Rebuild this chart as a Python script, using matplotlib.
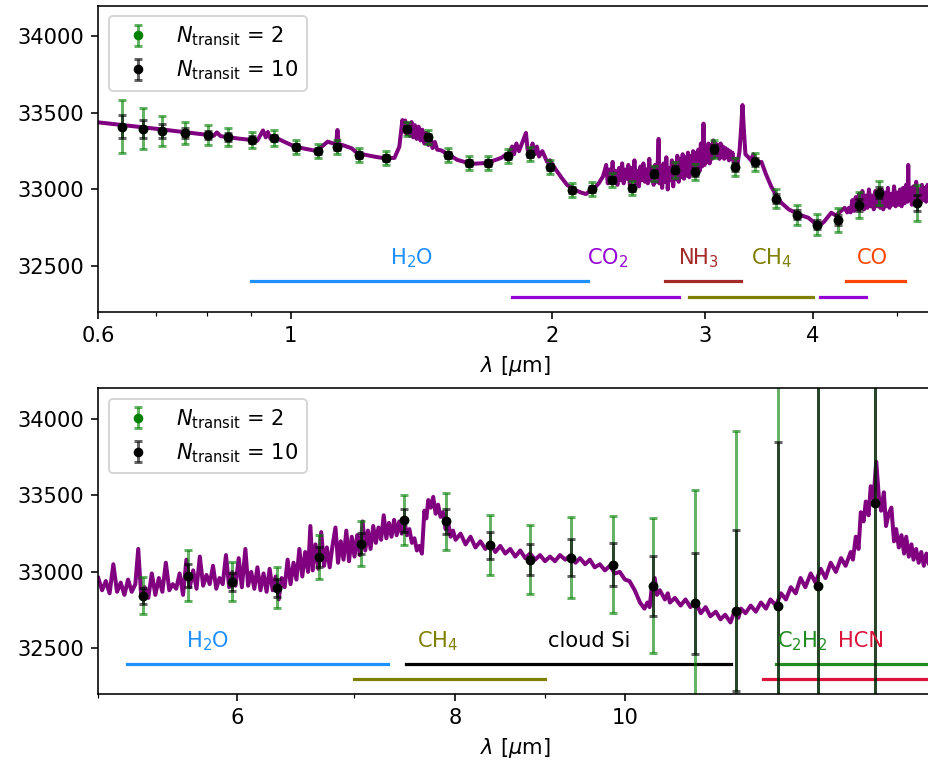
import matplotlib
matplotlib.use("Agg")
import matplotlib.pyplot as plt
import numpy as np
from matplotlib.ticker import NullFormatter

plt.rcParams["font.size"] = 10.5
plt.rcParams["mathtext.fontset"] = "dejavusans"

# binned data, short wavelength panel (micron, ppm)
wl_short = [0.639, 0.676, 0.711, 0.755, 0.803, 0.847, 0.902, 0.956, 1.013, 1.074,
            1.130, 1.200, 1.286, 1.360, 1.441, 1.519, 1.606, 1.688, 1.781, 1.888,
            1.990, 2.110, 2.224, 2.345, 2.473, 2.621, 2.770, 2.921, 3.079, 3.256,
            3.433, 3.628, 3.835, 4.044, 4.276, 4.520, 4.766, 5.270]
depth_short = [33410, 33395, 33382, 33369, 33356, 33343, 33323, 33336, 33277, 33251,
               33277, 33225, 33206, 33395, 33343, 33225, 33173, 33173, 33219, 33232,
               33147, 32997, 33004, 33063, 33010, 33102, 33128, 33115, 33264, 33147,
               33180, 32939, 32835, 32770, 32802, 32900, 32978, 32913]
err2_short = [173, 134, 100, 70, 63, 58, 52, 50, 48, 46,
              45, 44, 44, 44, 44, 44, 44, 44, 44, 44,
              44, 44, 44, 46, 48, 50, 52, 54, 56, 58,
              60, 62, 65, 68, 77, 85, 80, 116]
err10_short = [77, 60, 45, 31, 28, 26, 23, 22, 21, 21,
               20, 20, 20, 20, 20, 20, 20, 20, 20, 20,
               20, 20, 20, 21, 21, 22, 23, 24, 25, 26,
               27, 28, 29, 30, 34, 38, 36, 52]

# binned data, long wavelength panel
wl_long = [5.303, 5.627, 5.962, 6.327, 6.684, 7.062, 7.480, 7.906, 8.372, 8.826,
           9.311, 9.844, 10.38, 10.97, 11.58, 12.23, 12.90, 13.89]
depth_long = [32844, 32975, 32935, 32896, 33098, 33185, 33337, 33330, 33174, 33081,
              33094, 33048, 32909, 32794, 32746, 32779, 32909, 33452]
err2_long = [120, 166, 128, 133, 143, 149, 163, 186, 196, 227,
             264, 318, 441, 743, 1173, 2390, 4250, 6700]
err10_long = [54, 74, 57, 59, 64, 67, 73, 83, 88, 102,
              118, 142, 197, 332, 525, 1069, 1900, 3000]

# model spectrum, short wavelengths: (micron, ppm)
model_short = np.array([
    (0.600, 33438), (0.700, 33396), (0.800, 33357), (0.815, 33350), (0.822, 33372),
    (0.830, 33348), (0.874, 33331), (0.902, 33323), (0.915, 33318), (0.929, 33385),
    (0.936, 33340), (0.941, 33375), (0.948, 33330), (0.959, 33340), (1.011, 33279),
    (1.071, 33251), (1.103, 33312), (1.120, 33300), (1.128, 33300), (1.132, 33388),
    (1.136, 33295), (1.147, 33290), (1.175, 33269), (1.194, 33236), (1.249, 33214),
    (1.282, 33204), (1.317, 33206), (1.334, 33279), (1.345, 33453), (1.350, 33380),
    (1.355, 33450), (1.360, 33360), (1.366, 33430), (1.372, 33350), (1.378, 33440),
    (1.384, 33340), (1.390, 33420), (1.397, 33330), (1.404, 33410), (1.411, 33320),
    (1.418, 33390), (1.426, 33300), (1.433, 33370), (1.441, 33290), (1.449, 33340),
    (1.457, 33270), (1.466, 33310), (1.475, 33260), (1.491, 33255), (1.523, 33225),
    (1.556, 33193), (1.615, 33167), (1.684, 33173), (1.748, 33206), (1.785, 33240),
    (1.800, 33280), (1.809, 33230), (1.820, 33300), (1.833, 33250), (1.850, 33310),
    (1.867, 33369), (1.875, 33260), (1.892, 33240), (1.900, 33300), (1.912, 33230),
    (1.922, 33280), (1.933, 33215), (1.950, 33250), (1.974, 33182), (1.990, 33190),
    (2.022, 33128), (2.050, 33080), (2.082, 33030), (2.120, 33000), (2.160, 32980),
    (2.190, 32970), (2.218, 32997), (2.240, 33010), (2.265, 33040), (2.290, 33084),
    (2.300, 33120), (2.310, 33160), (2.320, 33040), (2.330, 33130), (2.340, 33060),
    (2.350, 33180), (2.360, 33050), (2.370, 33120), (2.380, 33030), (2.390, 33140),
    (2.400, 33060), (2.410, 33170), (2.420, 33040), (2.430, 33130), (2.440, 33070),
    (2.450, 33160), (2.460, 33030), (2.470, 33140), (2.480, 33060), (2.490, 33190),
    (2.500, 33040), (2.510, 33120), (2.520, 33020), (2.530, 33150), (2.540, 33060),
    (2.550, 33170), (2.560, 33050), (2.570, 33130), (2.580, 33040), (2.590, 33200),
    (2.600, 33060), (2.610, 33140), (2.620, 33030), (2.630, 33160), (2.640, 33050),
    (2.650, 33200), (2.655, 33330), (2.660, 33040), (2.670, 33150), (2.680, 33010),
    (2.690, 33170), (2.700, 33050), (2.710, 33210), (2.720, 33000), (2.730, 33140),
    (2.740, 33060), (2.750, 33190), (2.760, 33020), (2.770, 33170), (2.780, 33070),
    (2.790, 33220), (2.800, 33050), (2.810, 33200), (2.820, 33080), (2.830, 33230),
    (2.840, 33070), (2.850, 33210), (2.860, 33090), (2.870, 33240), (2.880, 33080),
    (2.890, 33220), (2.900, 33110), (2.910, 33250), (2.920, 33100), (2.930, 33240),
    (2.940, 33130), (2.950, 33260), (2.960, 33120), (2.970, 33300), (2.980, 33150),
    (2.991, 33430), (3.000, 33160), (3.010, 33280), (3.020, 33180), (3.030, 33300),
    (3.040, 33170), (3.050, 33290), (3.060, 33200), (3.070, 33320), (3.080, 33210),
    (3.090, 33300), (3.100, 33220), (3.110, 33290), (3.120, 33200), (3.130, 33300),
    (3.140, 33210), (3.150, 33280), (3.160, 33200), (3.170, 33270), (3.180, 33210),
    (3.190, 33260), (3.200, 33190), (3.210, 33250), (3.220, 33200), (3.230, 33240),
    (3.240, 33180), (3.250, 33200), (3.265, 33130), (3.291, 33250), (3.305, 33400),
    (3.317, 33551), (3.330, 33380), (3.343, 33230), (3.370, 33210), (3.392, 33190),
    (3.414, 33230), (3.450, 33170), (3.488, 33180), (3.530, 33100), (3.581, 33017),
    (3.630, 32960), (3.677, 32913), (3.750, 32870), (3.816, 32848), (3.880, 32830),
    (3.951, 32815), (4.000, 32790), (4.056, 32757), (4.120, 32790), (4.198, 32848),
    (4.250, 32830), (4.311, 32860), (4.350, 32880), (4.380, 32850), (4.400, 32880),
    (4.420, 32850), (4.440, 32930), (4.460, 32860), (4.480, 32950), (4.500, 32870),
    (4.520, 32970), (4.540, 32880), (4.560, 32990), (4.580, 32870), (4.600, 32960),
    (4.620, 32880), (4.640, 33000), (4.660, 32890), (4.680, 32960), (4.700, 32870),
    (4.720, 32990), (4.740, 32890), (4.760, 32970), (4.780, 32880), (4.800, 33000),
    (4.820, 32870), (4.840, 32980), (4.860, 32890), (4.880, 33010), (4.900, 32880),
    (4.920, 32970), (4.940, 32900), (4.960, 33020), (4.980, 32890), (5.000, 32980),
    (5.020, 32900), (5.040, 33000), (5.060, 32890), (5.080, 33010), (5.100, 32910),
    (5.120, 33030), (5.140, 32920), (5.150, 33160), (5.160, 32930), (5.180, 33010),
    (5.200, 32900), (5.220, 33020), (5.240, 32910), (5.260, 33050), (5.280, 32920),
    (5.300, 33000), (5.320, 32910), (5.340, 33030), (5.360, 32930), (5.380, 33010),
    (5.400, 32920), (5.420, 33030), (5.440, 32940), (5.460, 33010), (5.480, 32930),
    (5.500, 33000),
])

# model spectrum, long wavelengths
model_long = np.array([
    (5.000, 32960), (5.025, 32880), (5.050, 32940), (5.075, 32860), (5.100, 33050),
    (5.125, 32870), (5.150, 32930), (5.175, 32850), (5.200, 32950), (5.225, 32870),
    (5.250, 32920), (5.270, 33150), (5.290, 32850), (5.315, 32900), (5.340, 32830),
    (5.365, 32990), (5.390, 32850), (5.415, 32960), (5.440, 32870), (5.465, 33060),
    (5.490, 32880), (5.515, 32920), (5.540, 32890), (5.565, 32990), (5.590, 32850),
    (5.615, 33080), (5.640, 32900), (5.665, 33010), (5.690, 32890), (5.715, 33100),
    (5.740, 32910), (5.765, 32980), (5.790, 32920), (5.815, 33040), (5.840, 32890),
    (5.865, 32960), (5.890, 32920), (5.915, 33110), (5.940, 32900), (5.965, 33000),
    (5.990, 32910), (6.015, 33090), (6.040, 32900), (6.068, 33150), (6.090, 32910),
    (6.115, 33000), (6.140, 32890), (6.165, 33030), (6.190, 32880), (6.215, 32990),
    (6.240, 32870), (6.265, 33020), (6.290, 32880), (6.315, 32970), (6.340, 32820),
    (6.365, 32960), (6.390, 32900), (6.415, 33080), (6.440, 32920), (6.465, 33060),
    (6.490, 32950), (6.515, 33150), (6.540, 32970), (6.565, 33130), (6.590, 33000),
    (6.610, 33300), (6.630, 33010), (6.655, 33180), (6.680, 33020), (6.705, 33260),
    (6.730, 33040), (6.755, 33160), (6.780, 33030), (6.805, 33170), (6.832, 33290),
    (6.855, 33060), (6.880, 33200), (6.905, 33080), (6.930, 33270), (6.955, 33070),
    (6.980, 33230), (7.005, 33100), (7.030, 33240), (7.055, 33110), (7.080, 33330),
    (7.105, 33140), (7.130, 33270), (7.155, 33150), (7.180, 33300), (7.205, 33190),
    (7.230, 33290), (7.255, 33210), (7.280, 33370), (7.305, 33220), (7.330, 33320),
    (7.355, 33230), (7.380, 33340), (7.405, 33240), (7.430, 33330), (7.455, 33250),
    (7.480, 33340), (7.505, 33240), (7.530, 33280), (7.555, 33190), (7.580, 33220),
    (7.605, 33140), (7.630, 33170), (7.655, 33120), (7.680, 33400), (7.700, 33350),
    (7.720, 33470), (7.745, 33420), (7.770, 33490), (7.795, 33380), (7.820, 33440),
    (7.845, 33360), (7.870, 33390), (7.897, 33280), (7.925, 33320), (7.949, 33230),
    (7.975, 33270), (8.002, 33210), (8.055, 33250), (8.108, 33180), (8.161, 33230),
    (8.214, 33160), (8.268, 33200), (8.322, 33150), (8.377, 33190), (8.432, 33130),
    (8.487, 33170), (8.543, 33120), (8.599, 33150), (8.656, 33100), (8.713, 33140),
    (8.770, 33090), (8.827, 33120), (8.885, 33080), (8.943, 33110), (9.002, 33070),
    (9.061, 33100), (9.120, 33070), (9.180, 33110), (9.245, 33080), (9.311, 33110),
    (9.370, 33060), (9.426, 33090), (9.490, 33050), (9.549, 33080), (9.610, 33030),
    (9.675, 33050), (9.740, 33010), (9.803, 33040), (9.870, 32990), (9.932, 33000),
    (10.00, 32950), (10.06, 32940), (10.13, 32880), (10.20, 32800), (10.26, 32760),
    (10.30, 32800), (10.33, 32770), (10.36, 32900), (10.40, 32960), (10.43, 32850),
    (10.47, 32880), (10.54, 32820), (10.58, 32860), (10.61, 32800), (10.68, 32830),
    (10.76, 32780), (10.83, 32820), (10.90, 32770), (10.97, 32810), (11.05, 32730),
    (11.12, 32770), (11.19, 32710), (11.27, 32740), (11.34, 32690), (11.41, 32720),
    (11.49, 32670), (11.55, 32740), (11.61, 32700), (11.65, 32760), (11.72, 32730),
    (11.80, 32780), (11.88, 32740), (11.96, 32800), (12.04, 32760), (12.11, 32820),
    (12.20, 32780), (12.28, 32860), (12.36, 32820), (12.44, 32900), (12.52, 32860),
    (12.60, 32960), (12.68, 32900), (12.77, 32990), (12.85, 32930), (12.94, 33020),
    (13.02, 32960), (13.11, 33060), (13.20, 33000), (13.29, 33090), (13.37, 33040),
    (13.46, 33130), (13.50, 33080), (13.55, 33230), (13.60, 33150), (13.64, 33390),
    (13.69, 33330), (13.73, 33460), (13.78, 33370), (13.82, 33560), (13.87, 33480),
    (13.92, 33720), (13.97, 33480), (14.01, 33400), (14.06, 33520), (14.10, 33300),
    (14.15, 33380), (14.20, 33420), (14.25, 33200), (14.29, 33280), (14.34, 33160),
    (14.39, 33240), (14.44, 33120), (14.48, 33230), (14.53, 33100), (14.58, 33180),
    (14.62, 33080), (14.67, 33150), (14.72, 33060), (14.77, 33130), (14.82, 33040),
    (14.87, 33120), (14.92, 33050), (14.96, 33090), (15.06, 33060),
])

# molecular bands: label, start, end, level (ppm), label centre (micron)
bands_short_names = ["H$_2$O", "CO$_2$", "", "NH$_3$", "CH$_4$", "CO"]
bands_short_start = [0.9, 1.8, 4.08, 2.7, 2.88, 4.37]
bands_short_end = [2.2, 2.8, 4.6, 3.3, 4.0, 5.1]
bands_short_level = [32400, 32300, 32300, 32400, 32300, 32400]
bands_short_text_x = [1.38, 2.32, 4.3, 2.95, 3.58, 4.68]
bands_short_colors = ["dodgerblue", "darkviolet", "darkviolet", "brown", "olive", "orangered"]

bands_long_names = ["H$_2$O", "CH$_4$", "cloud Si", "C$_2$H$_2$", "HCN"]
bands_long_start = [5.19, 7.0, 7.5, 12.2, 12.0]
bands_long_end = [7.32, 9.0, 11.5, 16.0, 16.0]
bands_long_level = [32400, 32300, 32400, 32400, 32300]
bands_long_text_x = [5.77, 7.82, 9.54, 12.63, 13.64]
bands_long_colors = ["dodgerblue", "olive", "black", "forestgreen", "crimson"]

label_level = 32550


def draw_panel(ax, model, wl, depth, err2, err10, names, start, end, level, text_x, colors):
    ax.plot(model[:, 0], model[:, 1], color="purple", lw=2, zorder=1)
    ax.errorbar(wl, depth, yerr=err2, fmt="o", color="green", ms=3.8,
                ecolor=(0, 0.5, 0, 0.6), elinewidth=1.5, capsize=2, capthick=1.5,
                label=r"$N_{\rm transit}$ = 2", zorder=2)
    ax.errorbar(wl, depth, yerr=err10, fmt="o", color="black", ms=3.8,
                ecolor=(0, 0, 0, 0.6), elinewidth=1.5, capsize=2, capthick=1.5,
                label=r"$N_{\rm transit}$ = 10", zorder=3)
    for name, s, e, lev, tx, c in zip(names, start, end, level, text_x, colors):
        ax.plot([s, e], [lev, lev], color=c, lw=1.6, zorder=1.5)
        if name:
            ax.text(tx, label_level, name, color=c, ha="center", va="center")
    ax.set_xscale("log")
    ax.set_ylim(32200, 34200)
    ax.set_yticks([32500, 33000, 33500, 34000])
    ax.xaxis.set_minor_formatter(NullFormatter())
    ax.set_xlabel(r"$\lambda$ [$\mu$m]")
    ax.legend(loc="upper left")


fig = plt.figure(figsize=(928 / 144, 765 / 144), dpi=144)
ax1 = fig.add_axes([0.1059, 0.5922, 0.8995, 0.4004])
ax2 = fig.add_axes([0.1059, 0.0924, 0.8995, 0.4000])

draw_panel(ax1, model_short, wl_short, depth_short, err2_short, err10_short,
           bands_short_names, bands_short_start, bands_short_end,
           bands_short_level, bands_short_text_x, bands_short_colors)
ax1.set_xlim(0.6, 5.5)
ax1.set_xticks([0.6, 1, 2, 3, 4], ["0.6", "1", "2", "3", "4"])

draw_panel(ax2, model_long, wl_long, depth_long, err2_long, err10_long,
           bands_long_names, bands_long_start, bands_long_end,
           bands_long_level, bands_long_text_x, bands_long_colors)
ax2.set_xlim(5, 15)
ax2.set_xticks([6, 8, 10], ["6", "8", "10"])

fig.savefig("out.png", dpi=144)
